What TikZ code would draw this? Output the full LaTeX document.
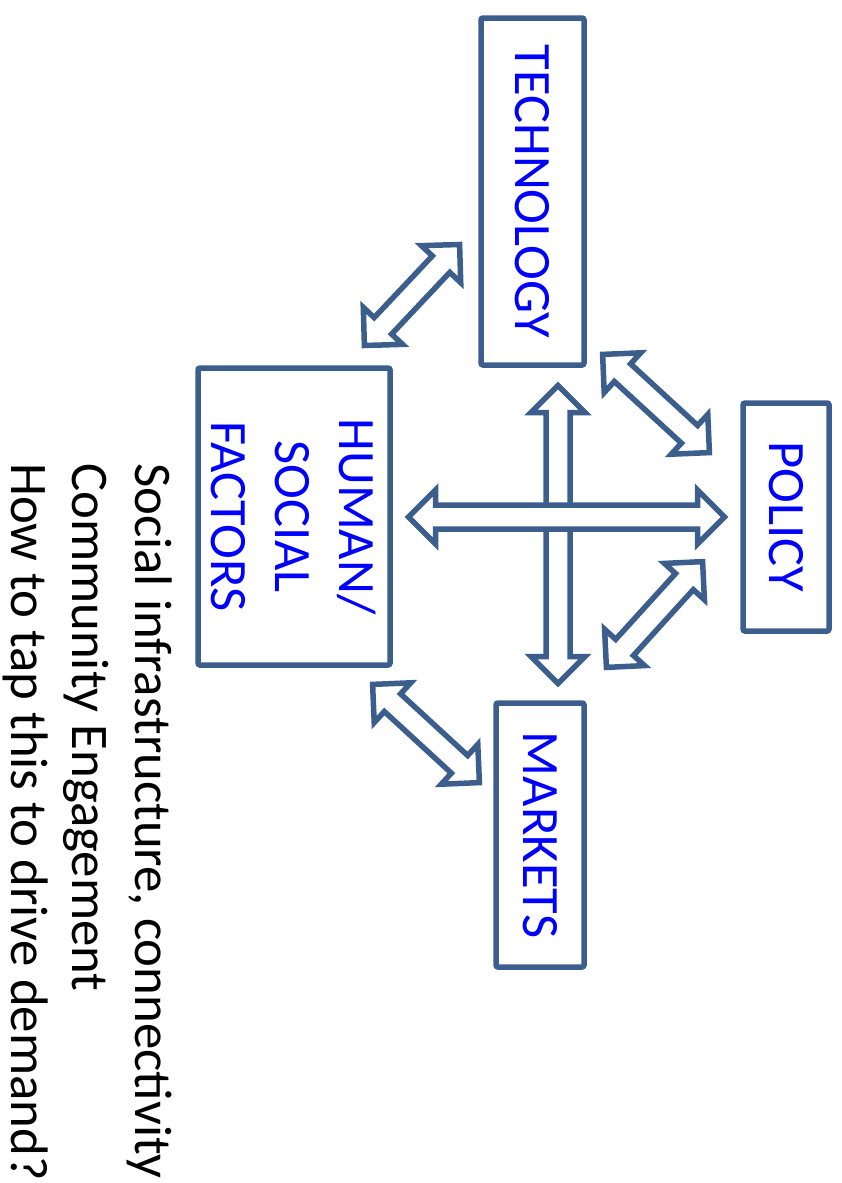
\documentclass[tikz,border=0pt]{standalone}
\usepackage{fontspec}
\setmainfont{Carlito}
\usetikzlibrary{calc}
\definecolor{frame}{RGB}{59,94,140}
\definecolor{label}{RGB}{0,0,255}
\tikzset{
  box/.style={draw=frame, line width=5.5pt, rounded corners=2pt, fill=white, text=label,
    font=\fontsize{52.5}{64}\selectfont, align=center, inner sep=0pt, rotate=-90},
  arrowline/.style={draw=frame, fill=white, line width=5.5pt, line join=miter},
  note/.style={rotate=-90, inner sep=0pt, text=black, font=\fontsize{52.8}{63}\selectfont}
}
\newcommand\blockarrow[3]{%
  \coordinate (#1a) at ($(#2)!27pt!(#3)$);
  \coordinate (#1b) at ($(#3)!27pt!(#2)$);
  \draw[arrowline] (#2) -- ($(#1a)!27pt!90:(#3)$) -- ($(#1a)!12pt!90:(#3)$)
    -- ($(#1b)!12pt!-90:(#2)$) -- ($(#1b)!27pt!-90:(#2)$) -- (#3)
    -- ($(#1b)!27pt!90:(#2)$) -- ($(#1b)!12pt!90:(#2)$)
    -- ($(#1a)!12pt!-90:(#3)$) -- ($(#1a)!27pt!-90:(#3)$) -- cycle;
}
\begin{document}
\begin{tikzpicture}[x=1pt,y=-1pt]
\useasboundingbox (0,0) rectangle (842,1183);
% boxes
\node[box, minimum width=347pt, minimum height=103pt] (tech) at (532.5,191.5) {TECHNOLOGY};
\node[box, minimum width=228pt, minimum height=86pt] (policy) at (786,517) {POLICY};
\node[box, minimum width=264pt, minimum height=88pt] (markets) at (540,835) {MARKETS};
\node[box, minimum width=297pt, minimum height=192pt] (human) at (294,516.5) {HUMAN/\\SOCIAL\\FACTORS};
% arrow end points
\coordinate (vt) at (558,385.5);
\coordinate (vb) at (558,683.5);
\coordinate (hl) at (408.5,517);
\coordinate (hr) at (724.5,517);
\coordinate (d1a) at (364.4,345.5);
\coordinate (d1b) at (459.6,244.5);
\coordinate (d2a) at (602.6,354.4);
\coordinate (d2b) at (709.4,452.6);
\coordinate (d3a) at (702.6,561.6);
\coordinate (d3b) at (606.4,667.4);
\coordinate (d4a) at (372.6,684.4);
\coordinate (d4b) at (479.4,782.6);
% arrows
\blockarrow{av}{vt}{vb}
\blockarrow{ah}{hl}{hr}
\blockarrow{aa}{d1a}{d1b}
\blockarrow{ab}{d2a}{d2b}
\blockarrow{ac}{d3a}{d3b}
\blockarrow{ad}{d4a}{d4b}
% notes
\node[note, anchor=base west] (l1) at (135,463) {Social infrastructure, connectivity};
\node[note, anchor=base west] (l2) at (72,463) {Community Engagement};
\node[note, anchor=base west] (l3) at (11,463) {How to tap this to drive demand?};
\end{tikzpicture}
\end{document}
